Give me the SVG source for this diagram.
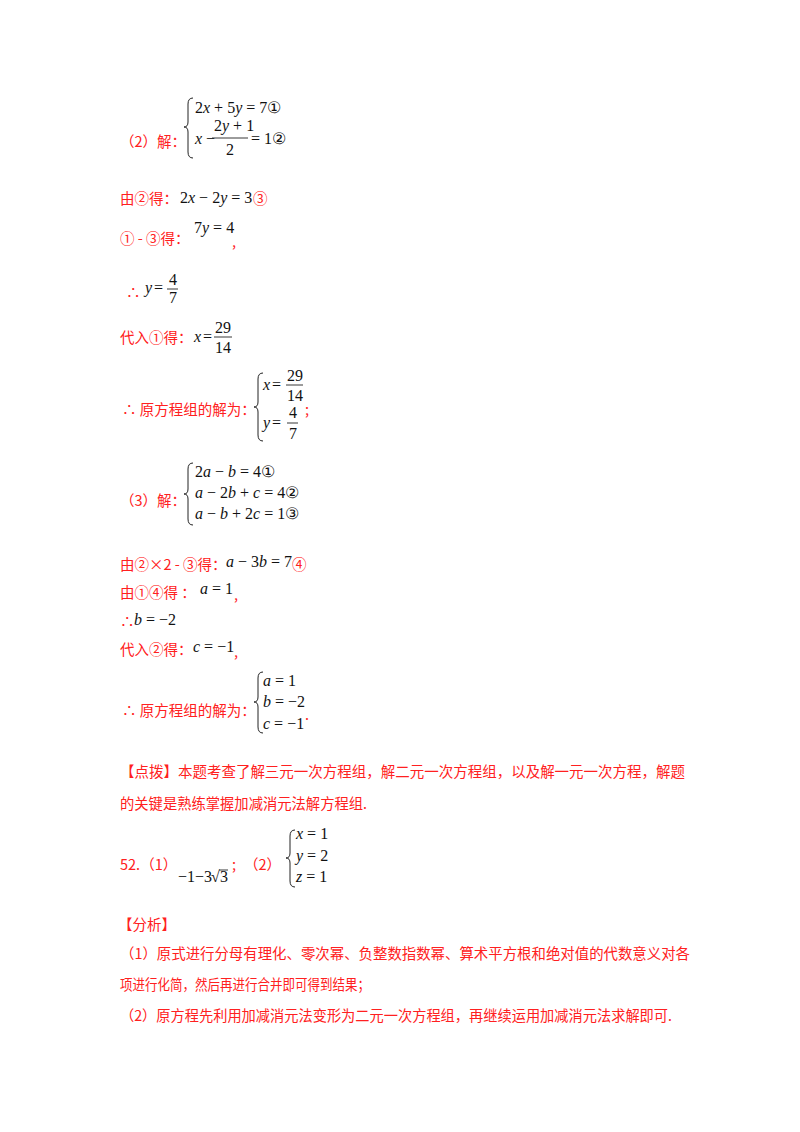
<svg xmlns="http://www.w3.org/2000/svg" width="800" height="1132" viewBox="0 0 800 1132">
<style>
.r{fill:#ff2020;font-family:"Noto Sans CJK SC","Liberation Serif",serif;font-size:14.5px}
.m{fill:#111;font-family:"Liberation Serif","DejaVu Serif","Times New Roman",serif;font-size:16px}
.i{font-style:italic}
.b{fill:none;stroke:#222;stroke-width:1}
.f{stroke:#222;stroke-width:0.9}
</style>
<rect width="800" height="1132" fill="#fff"/>
<g id="p2">
<text class="r" x="120" y="147">（2）解：</text>
<path class="b" d="M193,98 Q188,98 188,104 L188,122 Q188,127 184,127 Q188,127 188,132 L188,152 Q188,158 193,158"/>
<text class="m" x="195" y="113">2<tspan class="i">x</tspan> + 5<tspan class="i">y</tspan> = 7①</text>
<text class="m" x="195" y="144"><tspan class="i">x</tspan> −</text>
<text class="m" x="214" y="131">2<tspan class="i">y</tspan> + 1</text>
<line class="f" x1="212" y1="138" x2="248" y2="138"/>
<text class="m" x="226" y="155">2</text>
<text class="m" x="251" y="144">= 1②</text>
<text class="r" x="120" y="204">由②得：</text>
<text class="m" x="180" y="203">2<tspan class="i">x</tspan> − 2<tspan class="i">y</tspan> = 3</text>
<text class="r" x="253" y="204">③</text>
<text class="r" x="120" y="244">① - ③得：</text>
<text class="m" x="194" y="233">7<tspan class="i">y</tspan> = 4</text>
<text class="r" x="232" y="247">,</text>
<text class="r" x="126" y="298">∴</text>
<text class="m i" x="145" y="293">y</text><text class="m" x="154" y="293">=</text>
<text class="m" x="169" y="285">4</text>
<line class="f" x1="167" y1="289" x2="178" y2="289"/>
<text class="m" x="169" y="303">7</text>
<text class="r" x="120" y="343">代入①得：</text>
<text class="m i" x="194" y="342">x</text><text class="m" x="203" y="342">=</text>
<text class="m" x="215" y="333">29</text>
<line class="f" x1="214" y1="337" x2="232" y2="337"/>
<text class="m" x="215" y="353">14</text>
<text class="r" x="122" y="415">∴  原方程组的解为：</text>
<path class="b" d="M263,373 Q258,373 258,379 L258,402 Q258,407 254,407 Q258,407 258,412 L258,435 Q258,441 263,441"/>
<text class="m i" x="263" y="390">x</text><text class="m" x="272" y="390">=</text>
<text class="m" x="287" y="381">29</text>
<line class="f" x1="286" y1="385" x2="303" y2="385"/>
<text class="m" x="287" y="401">14</text>
<text class="m i" x="263" y="428">y</text><text class="m" x="272" y="428">=</text>
<text class="m" x="289" y="418">4</text>
<line class="f" x1="287" y1="423" x2="298" y2="423"/>
<text class="m" x="289" y="439">7</text>
<text class="r" x="305" y="415">;</text>
</g>
<g id="p3">
<text class="r" x="120" y="506">（3）解：</text>
<path class="b" d="M193,463 Q188,463 188,469 L188,489 Q188,494 184,494 Q188,494 188,499 L188,519 Q188,525 193,525"/>
<text class="m" x="195" y="477">2<tspan class="i">a</tspan> − <tspan class="i">b</tspan> = 4①</text>
<text class="m" x="195" y="498"><tspan class="i">a</tspan> − 2<tspan class="i">b</tspan> + <tspan class="i">c</tspan> = 4②</text>
<text class="m" x="195" y="519"><tspan class="i">a</tspan> − <tspan class="i">b</tspan> + 2<tspan class="i">c</tspan> = 1③</text>
<text class="r" x="120" y="570">由②×2 - ③得：</text>
<text class="m" x="226" y="567"><tspan class="i">a</tspan> − 3<tspan class="i">b</tspan> = 7</text>
<text class="r" x="292" y="570">④</text>
<text class="r" x="120" y="598">由①④得 ：</text>
<text class="m" x="200" y="594" font-size="13"><tspan class="i">a</tspan> = 1</text>
<text class="r" x="234" y="600">,</text>
<text class="r" x="120" y="627">∴</text>
<text class="m" x="134" y="625" font-size="14"><tspan class="i">b</tspan> = −2</text>
<text class="r" x="120" y="655">代入②得：</text>
<text class="m" x="193" y="652"><tspan class="i">c</tspan> = −1</text>
<text class="r" x="234" y="657">,</text>
<text class="r" x="122" y="716">∴  原方程组的解为：</text>
<path class="b" d="M263,672 Q258,672 258,678 L258,697 Q258,702 254,702 Q258,702 258,707 L258,727 Q258,733 263,733"/>
<text class="m" x="263" y="686"><tspan class="i">a</tspan> = 1</text>
<text class="m" x="263" y="707"><tspan class="i">b</tspan> = −2</text>
<text class="m" x="263" y="729"><tspan class="i">c</tspan> = −1</text>
<text class="r" x="305" y="720">.</text>
</g>
<g id="notes">
<text class="r" x="120" y="777" textLength="565" lengthAdjust="spacingAndGlyphs">【点拨】本题考查了解三元一次方程组，解二元一次方程组，以及解一元一次方程，解题</text>
<text class="r" x="120" y="809" textLength="247" lengthAdjust="spacingAndGlyphs">的关键是熟练掌握加减消元法解方程组.</text>
<text class="r" x="120" y="870">52.（1）</text>
<text class="m" x="178" y="882" font-size="15">−1−3</text>
<text class="m" x="211" y="882" font-size="15">√</text>
<text class="m" x="220" y="882" font-size="15">3</text>
<line class="f" x1="219" y1="870" x2="228" y2="870"/>
<text class="r" x="232" y="870">;</text>
<text class="r" x="244" y="870">（2）</text>
<path class="b" d="M295,830 Q290,830 290,836 L290,853 Q290,858 286,858 Q290,858 290,863 L290,881 Q290,887 295,887"/>
<text class="m" x="296" y="839"><tspan class="i">x</tspan> = 1</text>
<text class="m" x="296" y="861"><tspan class="i">y</tspan> = 2</text>
<text class="m" x="296" y="882"><tspan class="i">z</tspan> = 1</text>
<text class="r" x="118" y="930">【分析】</text>
<text class="r" x="120" y="959" textLength="570" lengthAdjust="spacingAndGlyphs">（1）原式进行分母有理化、零次幂、负整数指数幂、算术平方根和绝对值的代数意义对各</text>
<text class="r" x="120" y="990" textLength="250" lengthAdjust="spacingAndGlyphs">项进行化简，然后再进行合并即可得到结果；</text>
<text class="r" x="120" y="1021" textLength="552" lengthAdjust="spacingAndGlyphs">（2）原方程先利用加减消元法变形为二元一次方程组，再继续运用加减消元法求解即可.</text>
</g>
</svg>
